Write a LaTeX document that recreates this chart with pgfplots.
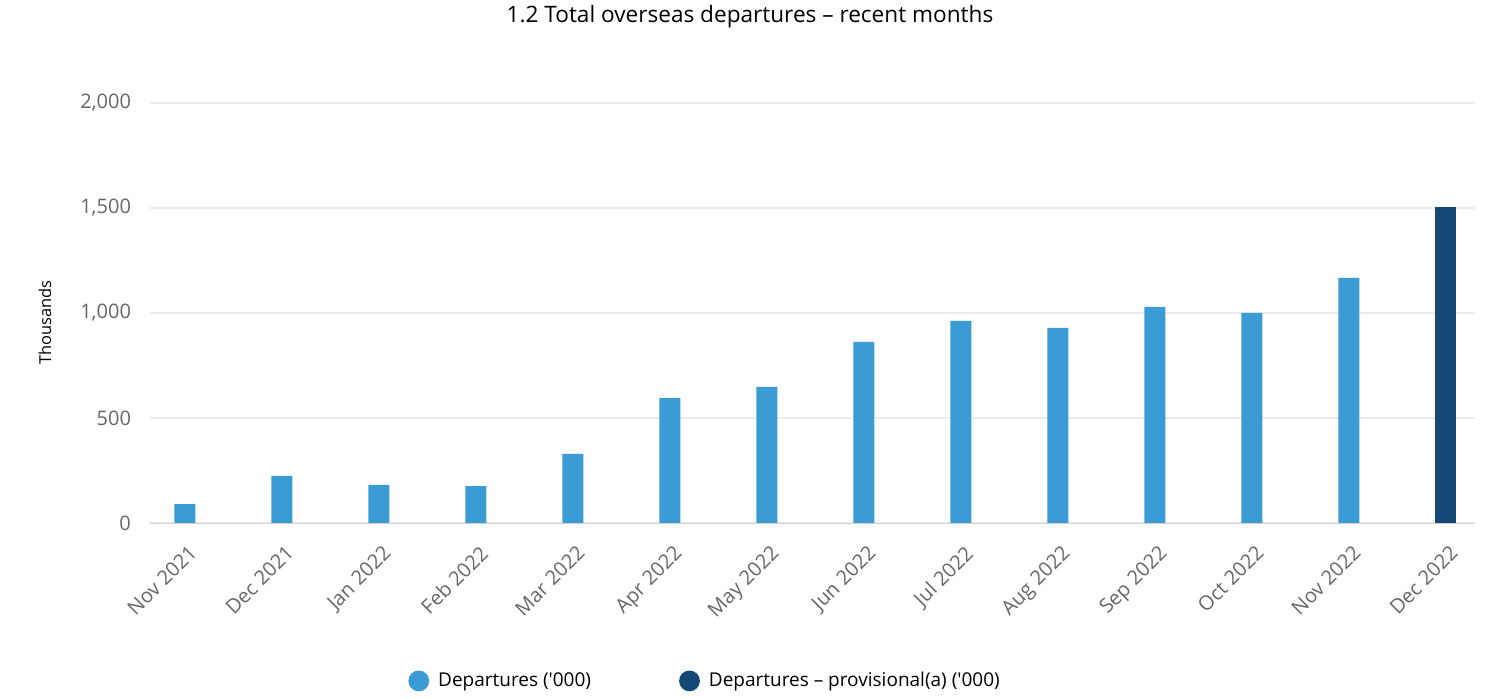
\documentclass[border=0pt]{standalone}
\usepackage{fontspec}
\setmainfont{Open Sans}
\usepackage{pgfplots}
\usepackage{pgfplotstable}
\pgfplotsset{compat=1.18}

\definecolor{depblue}{RGB}{58,155,213}
\definecolor{depnavy}{RGB}{20,72,117}
\definecolor{ticktext}{RGB}{102,102,102}
\definecolor{gridgray}{RGB}{236,236,236}
\definecolor{basegray}{RGB}{210,210,210}

% monthly departures, thousands
\pgfplotstableread{
x val
0 90
1 224
2 181
3 176
4 329
5 595
6 648
7 862
8 962
9 929
10 1029
11 1000
12 1167
}\departures

\pgfplotstableread{
x val
13 1505
}\provisional

\begin{document}
\begin{tikzpicture}
\useasboundingbox (0,0) rectangle (743pt,349.5pt);
\node[font=\fontsize{11.3}{13}\selectfont] at (375pt,341pt) {1.2 Total overseas departures – recent months};
\begin{axis}[
	at={(75pt,88pt)}, anchor=south west,
	scale only axis,
	width=662.5pt, height=210pt,
	ybar, bar width=10.5pt, bar shift=0pt,
	xmin=-0.36, xmax=13.3,
	ymin=0, ymax=2000,
	xtick={0,...,13},
	xticklabels={Nov 2021,Dec 2021,Jan 2022,Feb 2022,Mar 2022,Apr 2022,May 2022,Jun 2022,Jul 2022,Aug 2022,Sep 2022,Oct 2022,Nov 2022,Dec 2022},
	ytick={0,500,1000,1500,2000},
	/pgf/number format/.cd, 1000 sep={,}, assume math mode=true, /pgfplots/.cd,
	axis x line*=bottom, axis y line*=left,
	x axis line style={draw=basegray, -},
	y axis line style={draw=none},
	tick style={draw=none},
	ymajorgrids=true,
	major grid style={draw=gridgray, line width=0.6pt},
	ticklabel style={text=ticktext, font=\fontsize{10}{12}\selectfont},
	xticklabel style={rotate=45, anchor=north east, yshift=-2pt},
	yticklabel style={anchor=east, xshift=-6pt},
	ylabel={Thousands},
	ylabel style={at={(axis description cs:-0.0792,0.478)}, anchor=center, font=\fontsize{8.2}{10}\selectfont},
	legend image code/.code={\fill[#1] (5pt,0pt) circle (5.2pt);},
	legend columns=2,
	legend style={draw=none, fill=none, inner sep=0pt,
		at={(axis description cs:0.1947,-0.376)}, anchor=west,
		font=\fontsize{9.5}{11}\selectfont,
		/tikz/every even column/.append style={column sep=39.5pt},
		nodes={inner xsep=4.5pt}},
	legend cell align=left,
]
\addplot[fill=depblue, draw=none] table[x=x, y=val] {\departures};
\addlegendentry{Departures (\textquotesingle 000)}
\addplot[fill=depnavy, draw=none] table[x=x, y=val] {\provisional};
\addlegendentry{Departures – provisional(a) (\textquotesingle 000)}
\end{axis}
\end{tikzpicture}
\end{document}
